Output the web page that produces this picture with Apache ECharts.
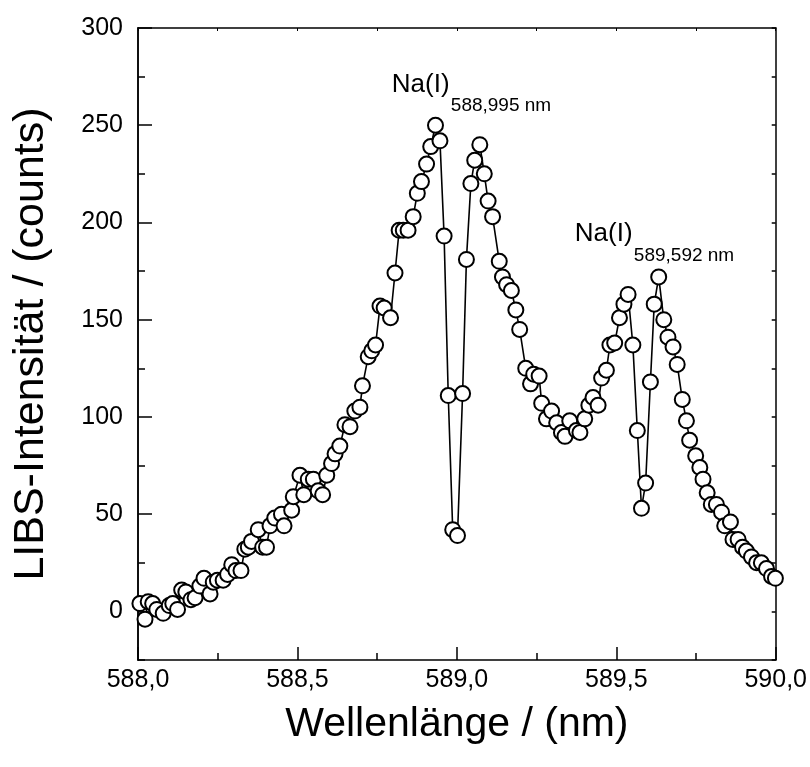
<!DOCTYPE html>
<html>
<head>
<meta charset="utf-8">
<script src="https://cdn.jsdelivr.net/npm/echarts@6/dist/echarts.min.js"></script>
<style>html,body{margin:0;padding:0;background:#fff}#c{width:810px;height:767px}</style>
</head>
<body>
<div id="c"></div>
<script>
// Wavelength (nm)
const wavelength = [588.006,588.022,588.032,588.046,588.059,588.079,588.098,588.109,588.124,588.137,588.150,588.166,588.179,588.194,588.207,588.226,588.236,588.249,588.267,588.281,588.294,588.307,588.323,588.335,588.346,588.356,588.377,588.391,588.403,588.414,588.429,588.450,588.458,588.482,588.487,588.508,588.520,588.534,588.550,588.565,588.579,588.592,588.607,588.618,588.633,588.649,588.665,588.680,588.696,588.704,588.722,588.733,588.745,588.759,588.772,588.792,588.806,588.819,588.832,588.847,588.863,588.876,588.889,588.905,588.918,588.933,588.947,588.960,588.973,588.987,589.002,589.018,589.030,589.044,589.056,589.072,589.086,589.098,589.112,589.133,589.143,589.156,589.171,589.185,589.197,589.216,589.231,589.241,589.258,589.266,589.281,589.297,589.313,589.328,589.339,589.354,589.375,589.386,589.401,589.414,589.427,589.443,589.454,589.469,589.480,589.495,589.510,589.524,589.537,589.552,589.566,589.579,589.592,589.607,589.619,589.633,589.649,589.662,589.678,589.691,589.707,589.720,589.730,589.749,589.762,589.772,589.785,589.798,589.814,589.830,589.840,589.858,589.866,589.882,589.896,589.908,589.924,589.940,589.955,589.971,589.987,589.999];
// LIBS intensity (counts)
const intensity = [4,-4,5,4,1,-1,3,4,1,11,10,6,7,13,17,9,15,16,16,19,24,21,21,32,33,36,42,33,33,44,48,50,44,52,59,70,60,68,68,62,60,70,76,81,85,96,95,103,105,116,131,134,137,157,156,151,174,196,196,196,203,215,221,230,239,250,242,193,111,42,39,112,181,220,232,240,225,211,203,180,172,168,165,155,145,125,117,122,121,107,99,103,97,92,90,98,93,92,99,106,110,106,120,124,137,138,151,158,163,137,93,53,66,118,158,172,150,141,136,127,109,98,88,80,74,68,61,55,55,51,44,46,37,37,33,31,28,25,25,22,18,17];

const xTicks = [588.0, 588.5, 589.0, 589.5, 590.0];
const yMajorTicks = [0, 50, 100, 150, 200, 250, 300];
const yMinorTicks = [-25, 25, 75, 125, 175, 225, 275];

const annotationText = ['Na(I)', 'Na(I)'];
const annotationSub = ['588,995 nm', '589,592 nm'];
const annotationX = [588.796, 589.370];
const annotationY = [270, 193];

const FONT = 'Liberation Sans, Arial, sans-serif';
const chart = echarts.init(document.getElementById('c'));

const commonLine = {show: true, onZero: false, lineStyle: {color: '#000', width: 1.5}};
const yBase = {type: 'value', min: -25, max: 300, gridIndex: 0, splitLine: {show: false}, axisLine: commonLine};

chart.setOption({
  animation: false,
  backgroundColor: '#fff',
  grid: {left: 138, right: 34, top: 28, bottom: 107, containLabel: false},
  xAxis: [
    {
      type: 'value', min: 588, max: 590, interval: 0.5, position: 'bottom',
      name: 'Wellenlänge / (nm)', nameLocation: 'middle', nameGap: 44,
      nameTextStyle: {fontFamily: FONT, fontSize: 41, color: '#000'},
      axisLine: commonLine,
      axisTick: {show: true, inside: true, length: 13, lineStyle: {color: '#000', width: 1.5}},
      minorTick: {show: true, splitNumber: 2, length: 7, lineStyle: {color: '#000', width: 1.5}},
      splitLine: {show: false}, minorSplitLine: {show: false},
      axisLabel: {fontFamily: FONT, fontSize: 25, color: '#000', margin: 8,
        formatter: v => v.toFixed(1).replace('.', ',')}
    },
    {
      type: 'value', min: 588, max: 590, interval: 0.5, position: 'top',
      axisLine: commonLine,
      axisTick: {show: true, inside: true, length: 3, lineStyle: {color: '#000', width: 1}},
      minorTick: {show: true, splitNumber: 2, length: 3, lineStyle: {color: '#000', width: 1}},
      axisLabel: {show: false}, splitLine: {show: false}
    }
  ],
  yAxis: [
    Object.assign({}, yBase, {
      position: 'left',
      name: 'LIBS-Intensität / (counts)', nameLocation: 'middle', nameGap: 85,
      nameTextStyle: {fontFamily: FONT, fontSize: 43, color: '#000'},
      axisTick: {show: true, inside: true, length: 14, customValues: yMajorTicks, lineStyle: {color: '#000', width: 1.5}},
      axisLabel: {show: true, customValues: yMajorTicks, fontFamily: FONT, fontSize: 25, color: '#000', margin: 15}
    }),
    Object.assign({}, yBase, {
      position: 'left',
      axisTick: {show: true, inside: true, length: 7, customValues: yMinorTicks, lineStyle: {color: '#000', width: 1.5}},
      axisLabel: {show: false}
    }),
    Object.assign({}, yBase, {
      position: 'right',
      axisTick: {show: true, inside: true, length: 4, customValues: yMajorTicks.concat(yMinorTicks), lineStyle: {color: '#000', width: 1.5}},
      axisLabel: {show: false}
    })
  ],
  series: [{
    type: 'line',
    xAxisIndex: 0, yAxisIndex: 0,
    data: wavelength.map((x, i) => [x, intensity[i]]),
    symbol: 'circle', symbolSize: 15,
    itemStyle: {color: '#fff', borderColor: '#000', borderWidth: 2},
    lineStyle: {color: '#000', width: 1.6},
    clip: false,
    z: 3
  }]
});

const gfx = [];
annotationText.forEach((t, i) => {
  const p = chart.convertToPixel({xAxisIndex: 0, yAxisIndex: 0}, [annotationX[i], annotationY[i]]);
  gfx.push({type: 'text', left: p[0], top: p[1] - 15,
    style: {text: t, font: '26px ' + FONT, fill: '#000'}});
  gfx.push({type: 'text', left: p[0] + 59, top: p[1] + 10,
    style: {text: annotationSub[i], font: '19px ' + FONT, fill: '#000'}});
});
chart.setOption({graphic: gfx});
</script>
</body>
</html>
